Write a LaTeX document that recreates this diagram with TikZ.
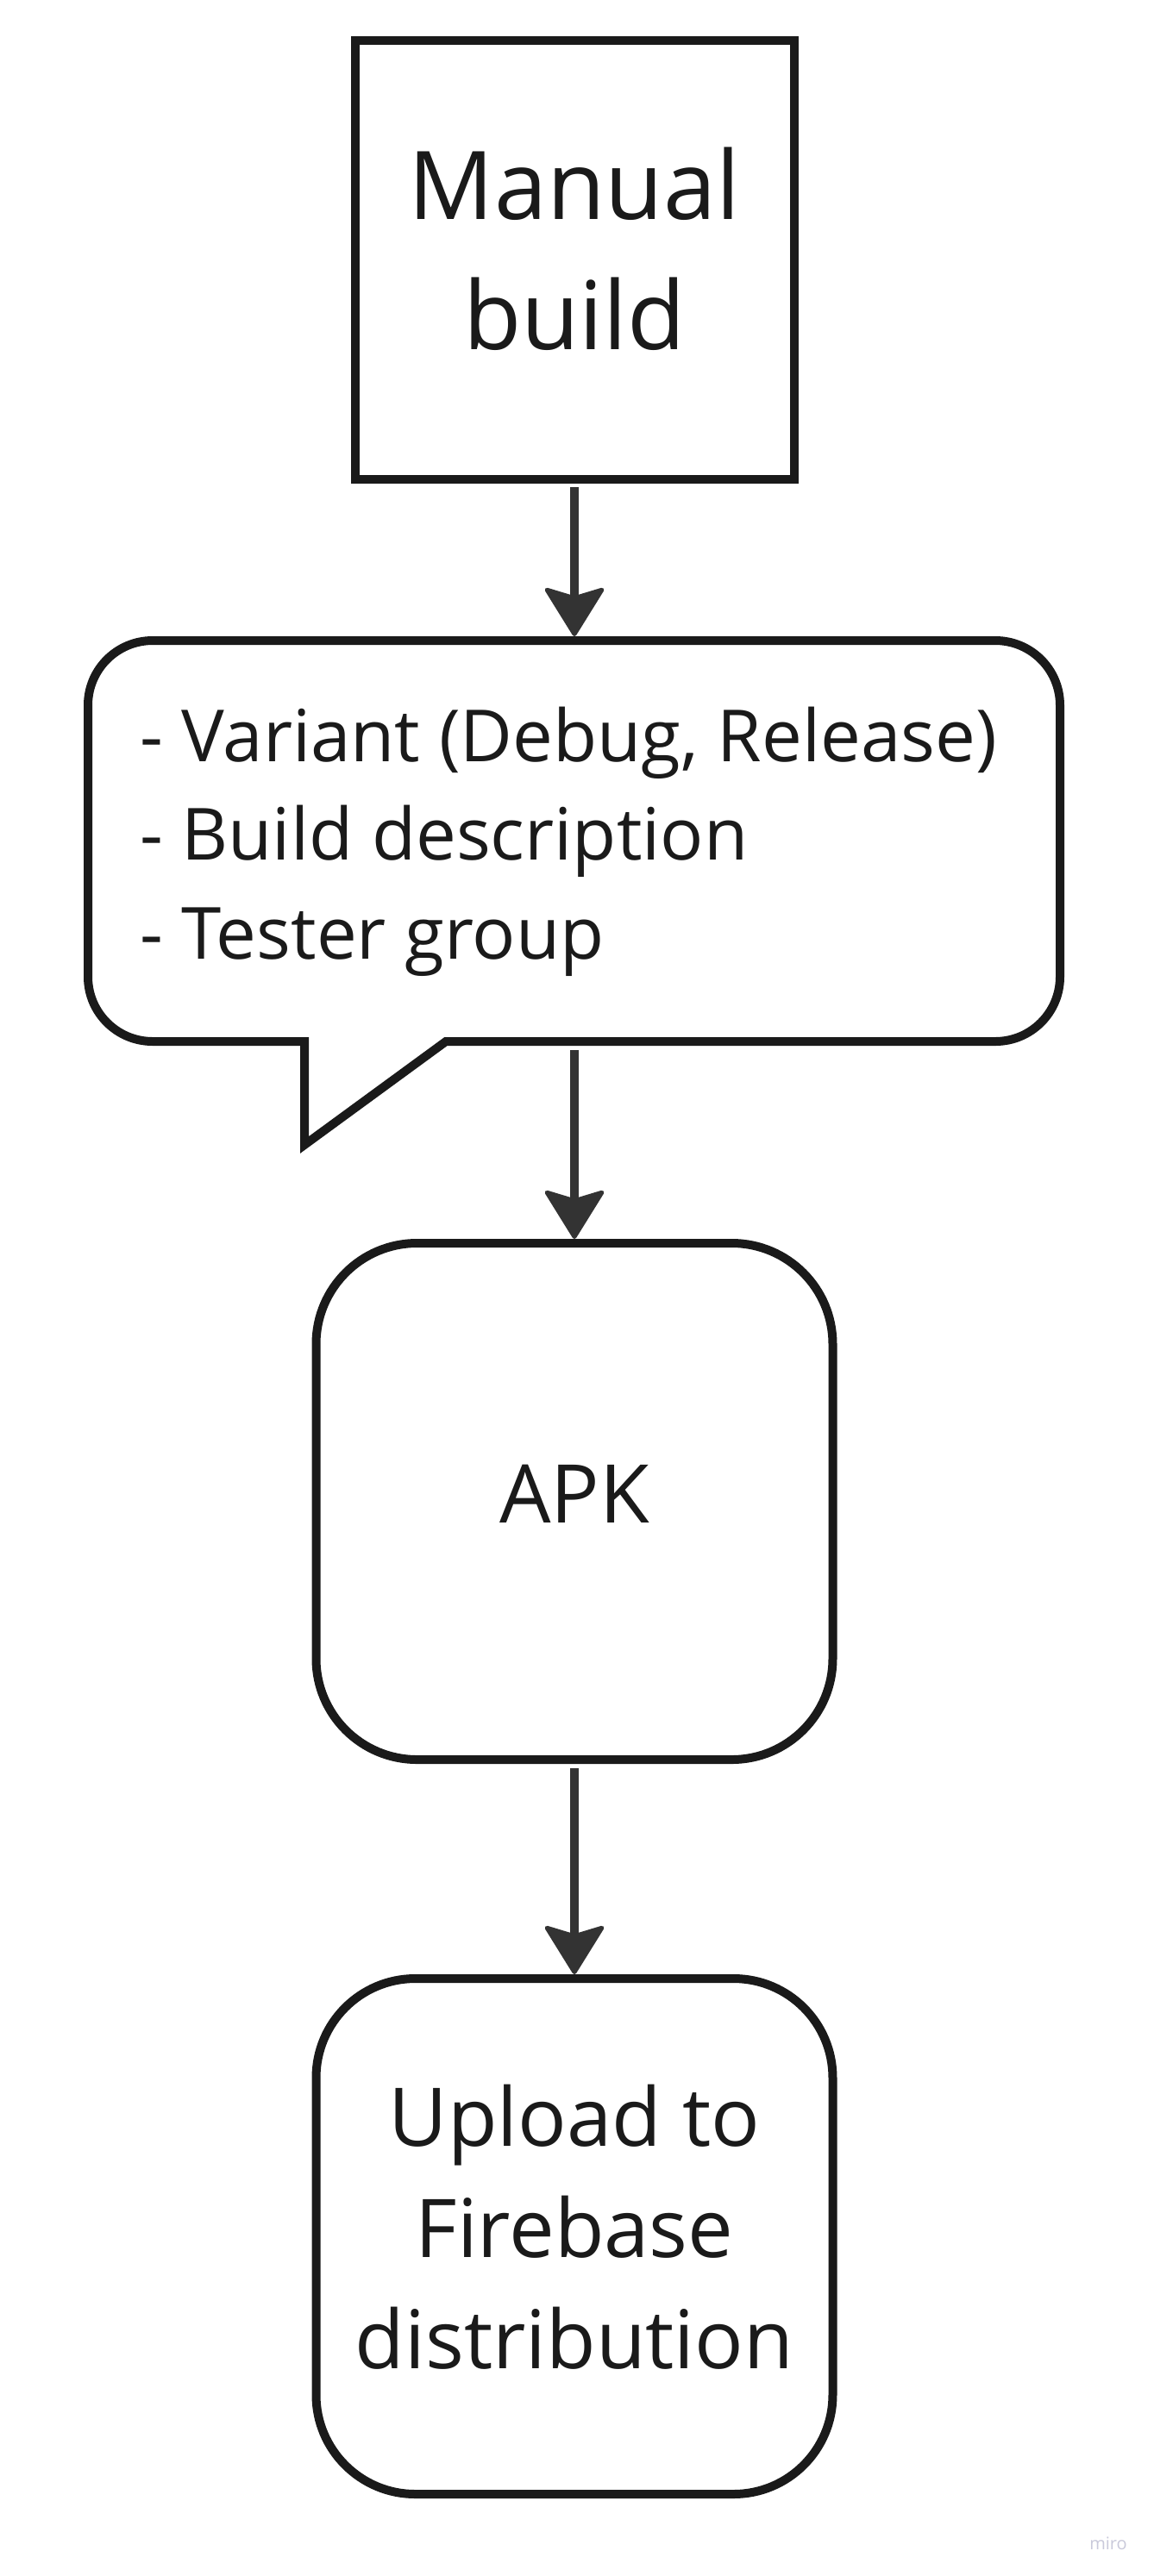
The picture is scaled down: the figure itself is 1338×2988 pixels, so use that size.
\documentclass[tikz,border=0pt]{standalone}
\usepackage{fontspec}
\setmainfont{Open Sans}
\usetikzlibrary{arrows.meta}
\definecolor{ink}{HTML}{1A1A1A}
\definecolor{arrowink}{HTML}{333333}
\definecolor{wmark}{HTML}{C9C9DA}
\begin{document}
\begin{tikzpicture}[x=1pt,y=-1pt,
  box/.style={draw=ink, line width=10pt, inner sep=0pt, outer sep=5pt, fill=white},
  txt/.style={inner sep=0pt, outer sep=0pt, text=ink},
  flow/.style={draw=arrowink, line width=10pt,
    -{Stealth[length=60pt,width=74pt,inset=11pt,round,line width=5pt]}},
  bubble/.style={draw=ink, line width=10pt, line join=miter, fill=white}]
\fill[white] (0,0) rectangle (1338,2988);
\useasboundingbox (0,0) rectangle (1338,2988);

% Manual build
\node[box, minimum width=509pt, minimum height=509pt] (manual) at (666,301.5) {};
\node[txt, align=center, font=\fontsize{110}{151}\selectfont] (manualtext) at (666,288.7) {Manual\\build};

% Callout with parameters
\node[inner sep=0pt, outer sep=5pt, minimum width=1127pt, minimum height=465pt] (params) at (665.5,975.5) {};
\draw[bubble] (353,1208) -- (353,1328) -- (517,1208) -- (1154,1208)
  arc[start angle=90, end angle=0, radius=75] -- (1229,818)
  arc[start angle=0, end angle=-90, radius=75] -- (177,743)
  arc[start angle=-90, end angle=-180, radius=75] -- (102,1133)
  arc[start angle=180, end angle=90, radius=75] -- cycle;
\node[txt, align=left, anchor=west, font=\fontsize{83.5}{114.5}\selectfont] (paramstext) at (162,975.8)
  {- Variant (Debug, Release)\\- Build description\\- Tester group};

% APK
\node[box, rounded corners=117pt, minimum width=599pt, minimum height=599pt] (apk) at (666,1741.5) {};
\node[txt, anchor=base, font=\fontsize{94}{128}\selectfont] (apktext) at (666,1766) {APK};

% Upload
\node[box, rounded corners=115pt, minimum width=599pt, minimum height=598pt] (upload) at (666,2594) {};
\node[txt, align=center, font=\fontsize{94}{129}\selectfont] (uploadtext) at (666,2583.3) {Upload to\\Firebase\\distribution};

% connectors
\draw[flow, shorten <=4pt] (manual.south) -- (manual.south |- params.north);
\draw[flow, shorten <=5pt] (manual.south |- params.south) -- (apk.north);
\draw[flow, shorten <=5pt] (apk.south) -- (upload.north);

% watermark
\node[inner sep=0pt, anchor=base, text=wmark, font=\fontsize{20}{24}\selectfont] (wm) at (1285,2957) {miro};
\end{tikzpicture}
\end{document}
